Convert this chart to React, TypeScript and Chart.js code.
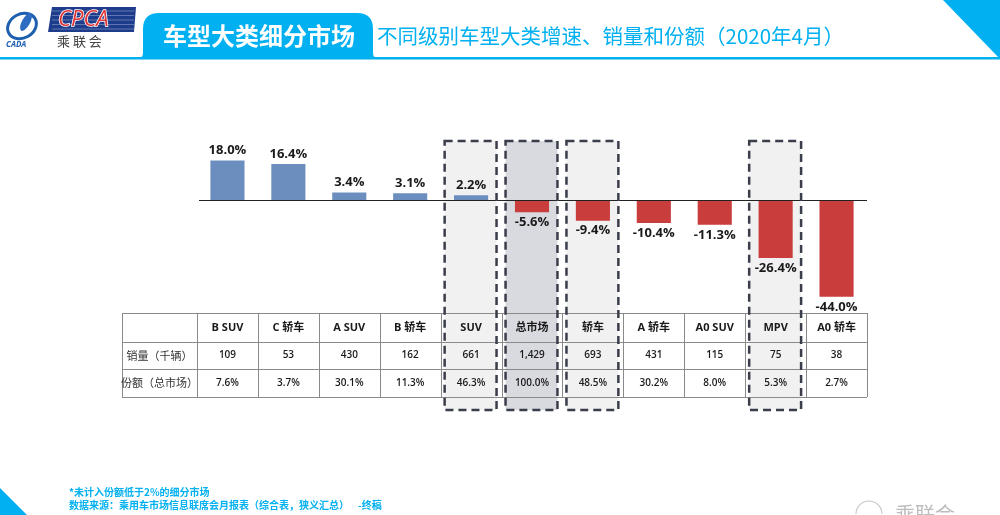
import React, { useEffect, useRef } from 'react';
import { Chart, registerables } from 'chart.js';

Chart.register(...registerables);

const categories = ['B SUV', 'C 轿车', 'A SUV', 'B 轿车', 'SUV', '总市场', '轿车', 'A 轿车', 'A0 SUV', 'MPV', 'A0 轿车'];
const growth = [18.0, 16.4, 3.4, 3.1, 2.2, -5.6, -9.4, -10.4, -11.3, -26.4, -44.0];
const sales = ['109', '53', '430', '162', '661', '1,429', '693', '431', '115', '75', '38'];
const shares = ['7.6%', '3.7%', '30.1%', '11.3%', '46.3%', '100.0%', '48.5%', '30.2%', '8.0%', '5.3%', '2.7%'];
const highlighted = ['SUV', '轿车', 'MPV'];
const totalCategory = '总市场';
const rowLabels = ['销量（千辆）', '份额（总市场）'];
const title = '车型大类细分市场';
const subtitle = '不同级别车型大类增速、销量和份额（2020年4月）';
const notes = ['*未计入份额低于2%的细分市场', '数据来源：乘用车市场信息联席会月报表（综合表，狭义汇总）    -终稿'];

const FONT = '"Open Sans", "Noto Sans CJK SC", sans-serif';
const CJK = '"Noto Sans CJK SC", "Open Sans", sans-serif';
const BLUE = '#00b0f0';

const decorPlugin = {
  id: 'decor',
  beforeDatasetsDraw(chart: any) {
    const ctx = chart.ctx;
    const x = chart.scales.x;
    const half = (x.getPixelForValue(1) - x.getPixelForValue(0)) / 2;
    ctx.save();
    // header
    ctx.fillStyle = BLUE;
    ctx.fillRect(0, 57, 1000, 2.5);
    ctx.beginPath();
    ctx.moveTo(943, 0); ctx.lineTo(1000, 0); ctx.lineTo(1000, 59); ctx.closePath(); ctx.fill();
    ctx.beginPath();
    ctx.moveTo(0, 488); ctx.lineTo(0, 515); ctx.lineTo(27, 515); ctx.closePath(); ctx.fill();
    // tab
    const tx0 = 143, tx1 = 373, ty0 = 13, ty1 = 58, r = 16;
    ctx.beginPath();
    ctx.moveTo(tx0 - 4, ty1);
    ctx.quadraticCurveTo(tx0, ty1, tx0, ty1 - 6);
    ctx.lineTo(tx0, ty0 + r);
    ctx.quadraticCurveTo(tx0, ty0, tx0 + r, ty0);
    ctx.lineTo(tx1 - r, ty0);
    ctx.quadraticCurveTo(tx1, ty0, tx1, ty0 + r);
    ctx.lineTo(tx1, ty1 - 6);
    ctx.quadraticCurveTo(tx1, ty1, tx1 + 4, ty1);
    ctx.closePath();
    ctx.fill();
    ctx.fillStyle = '#ffffff';
    ctx.font = `bold 24px ${CJK}`;
    ctx.textBaseline = 'middle';
    ctx.textAlign = 'center';
    ctx.fillText(title, (tx0 + tx1) / 2 + 1, 36);
    ctx.fillStyle = BLUE;
    ctx.font = `20.5px ${CJK}`;
    ctx.textAlign = 'left';
    ctx.fillText(subtitle, 377, 36);
    // logo
    ctx.strokeStyle = '#1f5fb0';
    ctx.lineWidth = 3;
    ctx.beginPath();
    ctx.ellipse(22, 26, 15, 12, -0.5, 0, Math.PI * 2);
    ctx.stroke();
    ctx.fillStyle = '#2b6cc0';
    ctx.beginPath();
    ctx.ellipse(26, 22, 4, 10, 0.5, 0, Math.PI * 2);
    ctx.fill();
    ctx.font = `bold italic 8px ${FONT}`;
    ctx.fillStyle = '#1f5fb0';
    ctx.fillText('CADA', 6, 45);
    ctx.fillStyle = '#1e3c8c';
    ctx.beginPath();
    ctx.moveTo(52, 7); ctx.lineTo(136, 7); ctx.lineTo(134, 32); ctx.lineTo(48, 32); ctx.closePath(); ctx.fill();
    ctx.strokeStyle = 'rgba(255,255,255,0.5)';
    ctx.lineWidth = 0.6;
    for (let i = 0; i < 5; i++) {
      ctx.beginPath(); ctx.moveTo(52, 11 + i * 4.5); ctx.lineTo(134, 11 + i * 4.5); ctx.stroke();
    }
    ctx.font = `italic 22px ${FONT}`;
    ctx.fillStyle = '#e03535';
    ctx.strokeStyle = '#ffffff';
    ctx.lineWidth = 1.5;
    ctx.strokeText('CPCA', 58, 20);
    ctx.fillText('CPCA', 58, 20);
    ctx.font = `13px ${CJK}`;
    ctx.fillStyle = '#444';
    ctx.fillText('乘 联 会', 57, 41);
    // highlight box fills
    categories.forEach((c, i) => {
      const isTotal = c === totalCategory;
      if (!isTotal && !highlighted.includes(c)) return;
      const cx = x.getPixelForValue(i);
      ctx.fillStyle = isTotal ? '#d9d9e0' : '#f1f1f1';
      ctx.fillRect(cx - half + 4, 141, 2 * half - 9, 269);
    });
    ctx.restore();
  },
  afterDatasetsDraw(chart: any) {
    const ctx = chart.ctx;
    const x = chart.scales.x;
    const y = chart.scales.y;
    const area = chart.chartArea;
    const half = (x.getPixelForValue(1) - x.getPixelForValue(0)) / 2;
    ctx.save();
    const y0 = y.getPixelForValue(0);
    ctx.strokeStyle = '#222';
    ctx.lineWidth = 1;
    ctx.beginPath();
    ctx.moveTo(area.left + 2, Math.round(y0) + 0.5);
    ctx.lineTo(area.right, Math.round(y0) + 0.5);
    ctx.stroke();
    ctx.font = `bold 13px ${FONT}`;
    ctx.fillStyle = '#1a1a1a';
    ctx.textAlign = 'center';
    ctx.textBaseline = 'middle';
    growth.forEach((v, i) => {
      const cx = x.getPixelForValue(i);
      const py = y.getPixelForValue(v);
      ctx.fillText(v.toFixed(1) + '%', cx, v >= 0 ? py - 10 : py + 10);
    });
    // table
    const rows = [area.bottom, area.bottom + 29, area.bottom + 56, area.bottom + 84];
    const left = 122;
    ctx.strokeStyle = '#8a8a8a';
    ctx.lineWidth = 1;
    rows.forEach((ry) => {
      ctx.beginPath();
      ctx.moveTo(left, Math.round(ry) + 0.5);
      ctx.lineTo(area.right, Math.round(ry) + 0.5);
      ctx.stroke();
    });
    const edges = [left, ...categories.map((_, i) => x.getPixelForValue(i) - half), area.right];
    edges.forEach((ex) => {
      ctx.beginPath();
      ctx.moveTo(Math.round(ex) + 0.5, rows[0]);
      ctx.lineTo(Math.round(ex) + 0.5, rows[3]);
      ctx.stroke();
    });
    ctx.fillStyle = '#1a1a1a';
    categories.forEach((c, i) => {
      const cx = x.getPixelForValue(i);
      ctx.font = `bold 11px ${FONT}`;
      ctx.fillText(c, cx, (rows[0] + rows[1]) / 2);
      ctx.font = `600 10px ${FONT}`;
      ctx.fillText(sales[i], cx, (rows[1] + rows[2]) / 2);
      ctx.fillText(shares[i], cx, (rows[2] + rows[3]) / 2);
    });
    ctx.font = `11px ${CJK}`;
    ctx.fillStyle = '#333';
    ctx.fillText(rowLabels[0], (left + area.left) / 2, (rows[1] + rows[2]) / 2);
    ctx.fillText(rowLabels[1], (left + area.left) / 2, (rows[2] + rows[3]) / 2);
    // dashed boxes
    ctx.strokeStyle = '#3a3d4a';
    ctx.lineWidth = 2.5;
    ctx.setLineDash([8, 5]);
    categories.forEach((c, i) => {
      if (c !== totalCategory && !highlighted.includes(c)) return;
      const cx = x.getPixelForValue(i);
      ctx.strokeRect(cx - half + 4, 141, 2 * half - 9, 269);
    });
    ctx.setLineDash([]);
    // footer
    ctx.fillStyle = BLUE;
    ctx.font = `bold 10px ${CJK}`;
    ctx.textAlign = 'left';
    ctx.fillText(notes[0], 69, 492);
    ctx.fillText(notes[1], 69, 505);
    // watermark
    ctx.fillStyle = '#bdbdbd';
    ctx.font = `20px ${CJK}`;
    ctx.fillText('乘联会', 895, 514);
    ctx.strokeStyle = '#c8c8c8';
    ctx.lineWidth = 1.2;
    ctx.beginPath();
    ctx.arc(869, 514, 13, Math.PI, Math.PI * 2);
    ctx.stroke();
    ctx.restore();
  },
};

export default function App() {
  const ref = useRef<HTMLCanvasElement>(null);
  useEffect(() => {
    document.body.style.margin = '0';
    const chart = new Chart(ref.current as HTMLCanvasElement, {
      type: 'bar',
      data: {
        labels: categories,
        datasets: [
          {
            data: growth,
            backgroundColor: growth.map((v) => (v >= 0 ? '#6c8ebf' : '#c93d3d')),
            barPercentage: 0.56,
            categoryPercentage: 1,
          },
        ],
      },
      options: {
        animation: false,
        responsive: false,
        layout: { padding: { left: 197, right: 133, top: 137, bottom: 202 } },
        plugins: { legend: { display: false }, tooltip: { enabled: false } },
        scales: {
          x: { display: false },
          y: { display: false, min: -51.36, max: 28.64 },
        },
      },
      plugins: [decorPlugin],
    });
    return () => chart.destroy();
  }, []);
  return (
    <div style={{ position: 'absolute', left: 0, top: 0, width: 1000, height: 515, background: '#fff' }}>
      <canvas ref={ref} width={1000} height={515} />
    </div>
  );
}
